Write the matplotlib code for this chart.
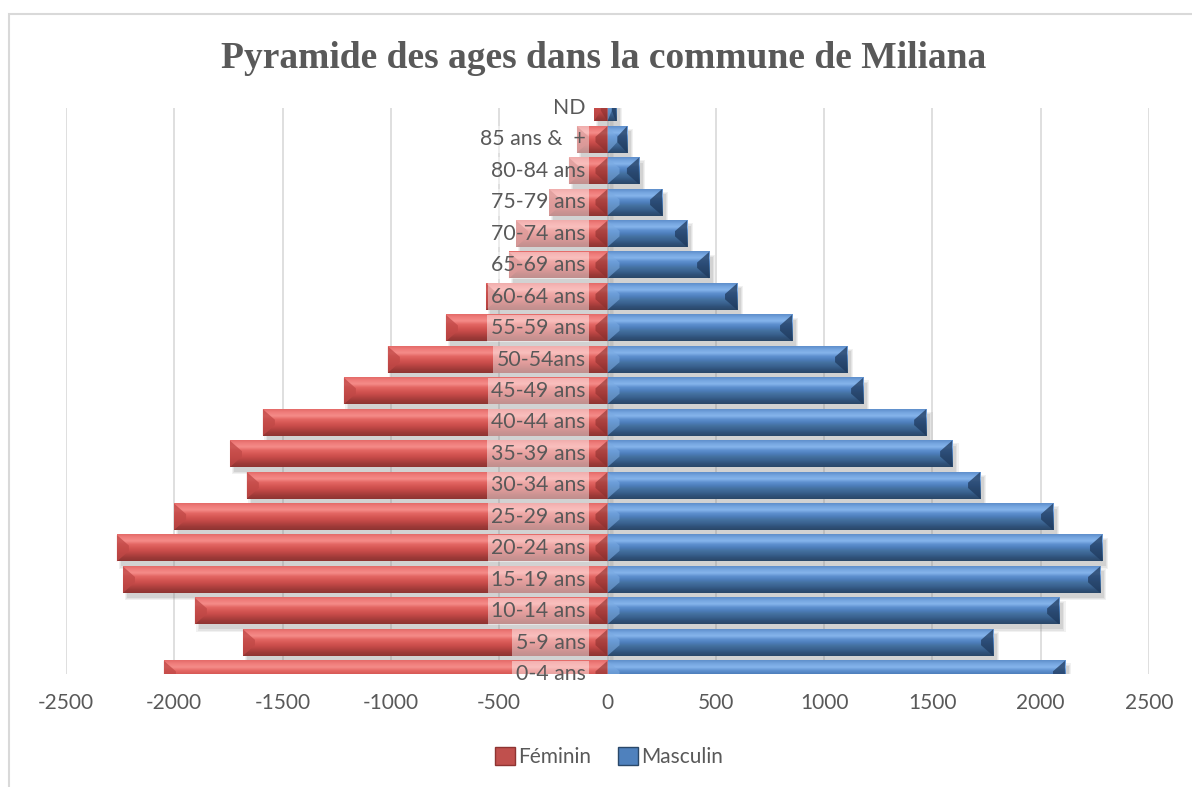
import numpy as np
import matplotlib
matplotlib.use("Agg")
import matplotlib.pyplot as plt
from matplotlib.patches import Polygon, Rectangle
from matplotlib.colors import LinearSegmentedColormap
import matplotlib.transforms as mtransforms

# ---------------- data ----------------
categories = ["0-4 ans", "5-9 ans", "10-14 ans", "15-19 ans", "20-24 ans",
              "25-29 ans", "30-34 ans", "35-39 ans", "40-44 ans", "45-49 ans",
              "50-54ans", "55-59 ans", "60-64 ans", "65-69 ans", "70-74 ans",
              "75-79 ans", "80-84 ans", "85 ans &  +", "ND"]
feminin = [-2048, -1683, -1905, -2237, -2265, -2001, -1665, -1743, -1591, -1217,
           -1014, -746, -561, -455, -422, -270, -178, -141, -62]
masculin = [2112, 1780, 2085, 2274, 2283, 2057, 1720, 1591, 1471, 1180,
            1106, 852, 598, 469, 367, 252, 145, 90, 39]
xticks = [-2500, -2000, -1500, -1000, -500, 0, 500, 1000, 1500, 2000, 2500]
series_names = ["Féminin", "Masculin"]
title = "Pyramide des ages dans la commune de Miliana"

# ---------------- style ----------------
TXT = "#595959"
FONT = ["Lato", "DejaVu Sans"]
red_grad = ["#E46B69", "#F07E7C", "#F58C89", "#E46764", "#D75855",
            "#C94C4A", "#B44341", "#9E3A38", "#8E3432"]
blue_grad = ["#5F8FCB", "#76A6E0", "#86B5EC", "#5E90CF", "#4D7EBB",
             "#44709F", "#3A6290", "#30527A", "#2A4869"]
red_end_outer = "#C04846"
red_end_inner = "#8A2F2D"
blue_end_outer = "#1F3A5E"
blue_end_inner = "#7AAAE2"
main_colors = ["#C0504D", "#4F81BD"]

W, H = 1192, 787
fig = plt.figure(figsize=(W / 100, H / 100), dpi=100)
ax = fig.add_axes([66 / W, 1 - 674 / H, (1149 - 66) / W, (674 - 108) / H])

ax.set_xlim(-2500, 2500)
ax.set_ylim(0, len(categories) - 1)

# pixel -> data conversions
px_x = 5000 / (1149 - 66)
px_y = (len(categories) - 1) / (674 - 108)

bar_h = 0.84
bevel_w = 12 * px_x
shadow_dx = 4 * px_x
shadow_dy = 5 * px_y


def draw_bar(y, v, grad, end_outer, end_inner):
    top, bot = y + bar_h / 2, y - bar_h / 2
    x0, x1 = min(0, v), max(0, v)
    # shadow
    for k, a in enumerate([0.10, 0.12, 0.16]):
        g = (2 - k) * 1.2 * px_x
        ax.add_patch(Rectangle((x0 + shadow_dx - g, bot - shadow_dy - g * px_y / px_x),
                               (x1 - x0) + 2 * g, bar_h + 2 * g * px_y / px_x,
                               facecolor="#7F7F7F", edgecolor="none", alpha=a, zorder=1.5))
    # body gradient
    cmap = LinearSegmentedColormap.from_list("g", grad)
    grd = np.linspace(0, 1, 64).reshape(-1, 1)
    ax.imshow(grd, cmap=cmap, extent=[x0, x1, bot, top], aspect="auto",
              interpolation="bilinear", origin="upper", zorder=2)
    # end bevels
    s = np.sign(v)
    w = min(bevel_w, abs(v) / 2)
    d = bar_h * 0.40
    outer = Polygon([(v, top), (v - s * w, top - d), (v - s * w, bot + d), (v, bot)],
                    closed=True, facecolor=end_outer, edgecolor="none", alpha=0.75, zorder=2.5)
    inner = Polygon([(0, top), (s * w, top - d), (s * w, bot + d), (0, bot)],
                    closed=True, facecolor=end_inner, edgecolor="none", alpha=0.6, zorder=2.5)
    ax.add_patch(outer)
    ax.add_patch(inner)


ypos = np.arange(len(categories))
for y, f, m in zip(ypos, feminin, masculin):
    draw_bar(y, f, red_grad, red_end_outer, red_end_inner)
    draw_bar(y, m, blue_grad, blue_end_outer, blue_end_inner)

# grid
for xv in xticks:
    ax.axvline(xv, color="#D9D9D9", lw=1.2, zorder=0)

ax.set_xticks(xticks)
ax.set_xticklabels([str(t) for t in xticks], fontsize=15, color=TXT, family=FONT)
ax.tick_params(axis="x", length=0, pad=14)
ax.set_yticks([])
for sp in ax.spines.values():
    sp.set_visible(False)

# category labels next to the zero axis
lab_tr = mtransforms.offset_copy(ax.transData, fig=fig, x=-22, y=0, units="dots")
for y, lab in zip(ypos, categories):
    ax.text(0, y, lab, transform=lab_tr, ha="right", va="center", fontsize=15.3,
            color=TXT, family=FONT, zorder=6, clip_on=False,
            bbox=dict(boxstyle="square,pad=0.16", facecolor="white", alpha=0.45,
                      edgecolor="none"))

# title
fig.text(604 / W, 1 - 68 / H, title, ha="center", va="baseline", fontsize=27,
         fontweight="bold", color=TXT, family=["Liberation Serif", "DejaVu Serif"])

# legend
handles = [Rectangle((0, 0), 1, 1, facecolor=main_colors[0], edgecolor="#8E3432", lw=1),
           Rectangle((0, 0), 1, 1, facecolor=main_colors[1], edgecolor="#2A4869", lw=1)]
fig.legend(handles, series_names, loc="center", bbox_to_anchor=(609 / W, 1 - 757 / H),
           ncol=2, frameon=False, handlelength=0.95, handleheight=0.95,
           handletextpad=0.15, columnspacing=1.3,
           prop={"family": FONT, "size": 15}, labelcolor=TXT)

# outer border
fig.add_artist(Rectangle((9 / W, -0.05), 1.2, 1 - 14 / H + 0.05, transform=fig.transFigure,
                         fill=False, edgecolor="#D9D9D9", lw=1.5))

fig.savefig("out.png", dpi=100, facecolor="white")
